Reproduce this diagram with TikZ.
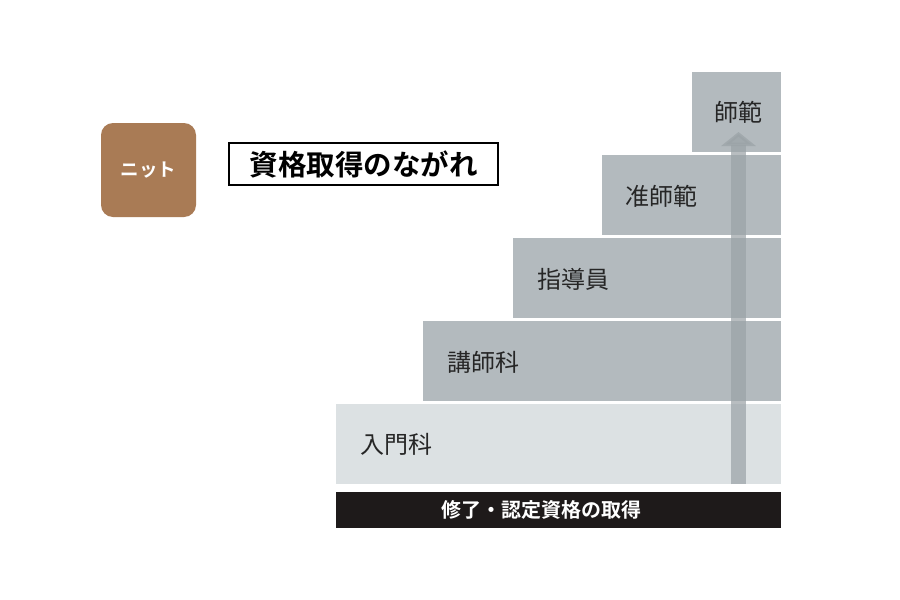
\documentclass[tikz,border=0pt]{standalone}
\usepackage{fontspec}
\setmainfont{Noto Sans CJK JP}
\newfontfamily\jpbold{Noto Sans CJK JP Bold}
\usetikzlibrary{arrows.meta}
\definecolor{tagbrown}{HTML}{A97B55}
\definecolor{stepgray}{HTML}{B3BABE}
\definecolor{steplight}{HTML}{DCE1E3}
\definecolor{barblack}{HTML}{1E1A1A}
\definecolor{arrowgray}{HTML}{9AA2A6}
\begin{document}
\begin{tikzpicture}[x=1pt,y=-1pt,
  stepbox/.style={fill=stepgray,draw=none},
  steplabel/.style={font=\fontsize{24}{24}\selectfont,text=black!85,anchor=west,inner sep=0pt},
]
\useasboundingbox (0,0) rectangle (900,600);
\fill[white] (0,0) rectangle (900,600);
% tag
\node[fill=tagbrown,rounded corners=12pt,minimum width=95pt,minimum height=94pt,inner sep=0pt,
  text=white,font=\jpbold\fontsize{18.5}{18.5}\selectfont] (tag) at (148.5,170) {ニット};
% title
\node[draw=black,line width=1.2pt,minimum width=269pt,minimum height=42pt,inner sep=0pt,
  font=\jpbold\fontsize{28.5}{28.5}\selectfont] (title) at (363.5,164) {資格取得のながれ};
% steps
\fill[steplight] (336,404) rectangle (781,484);
\fill[stepgray] (423,321) rectangle (781,401);
\fill[stepgray] (513,238) rectangle (781,318);
\fill[stepgray] (602,155) rectangle (781,235);
\fill[stepgray] (692,72) rectangle (781,152);
\coordinate (abot) at (738.5,484);
\coordinate (atop) at (738.5,132);
\draw[arrowgray,opacity=0.7,line width=15pt,-{Triangle[width=34pt,length=14pt]}] (abot) -- (atop);
\node[steplabel] (s1) at (360,444) {入門科};
\node[steplabel] (s2) at (447,362) {講師科};
\node[steplabel] (s3) at (537,279) {指導員};
\node[steplabel] (s4) at (625,196) {准師範};
\node[steplabel,anchor=center] (s5) at (738,112) {師範};
% bar
\node[fill=barblack,minimum width=445pt,minimum height=36pt,inner sep=0pt] (bar) at (558.5,510) {};
\node[text=white,inner sep=0pt,font=\jpbold\fontsize{20}{20}\selectfont] (bartext) at (541,510) {修了・認定資格の取得};
\end{tikzpicture}
\end{document}
